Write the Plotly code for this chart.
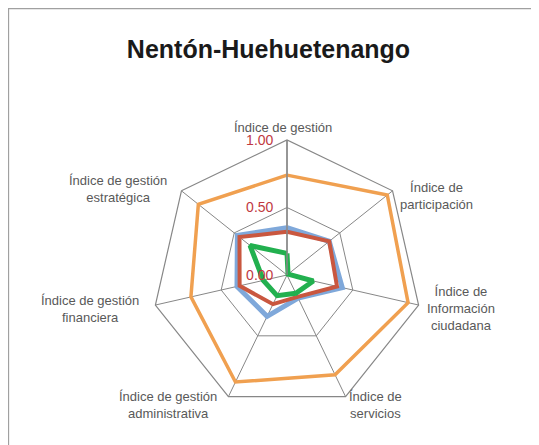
import plotly.graph_objects as go

categories = [
    "Índice de gestión",
    "Índice de participación",
    "Índice de Información ciudadana",
    "Índice de servicios",
    "Índice de gestión administrativa",
    "Índice de gestión financiera",
    "Índice de gestión estratégica",
]
category_labels = [
    "Índice de gestión",
    "Índice de<br>participación",
    "Índice de<br>Información<br>ciudadana",
    "Índice de<br>servicios",
    "Índice de gestión<br>administrativa",
    "Índice de gestión<br>financiera",
    "Índice de gestión<br>estratégica",
]
serie_naranja = [0.74, 0.95, 0.92, 0.82, 0.88, 0.73, 0.84]
serie_azul = [0.35, 0.40, 0.42, 0.19, 0.34, 0.38, 0.47]
serie_roja = [0.32, 0.40, 0.38, 0.18, 0.24, 0.36, 0.45]
serie_verde = [0.16, 0.01, 0.20, 0.15, 0.17, 0.18, 0.35]
tick_vals = [0, 0.5, 1.0]
tick_text = ["0.00", "0.50", "1.00"]

# label anchor positions in figure pixels (layout only)
label_xy = [(275, 119), (428, 188), (453, 300), (367, 397),
            (160, 397), (82, 301), (110, 181)]

series = [
    ("Serie 1", serie_naranja, "#F0A050", 3.5),
    ("Serie 2", serie_azul, "#7FA8DA", 5),
    ("Serie 3", serie_roja, "#C9573F", 4),
    ("Serie 4", serie_verde, "#22B04F", 5),
]

fig = go.Figure()
for name, vals, color, w in series:
    fig.add_trace(go.Scatterpolar(
        r=vals + vals[:1],
        theta=categories + categories[:1],
        mode="lines",
        name=name,
        line=dict(color=color, width=w),
        showlegend=False,
        hoverinfo="skip",
    ))

W, H = 539, 445
cx, cy, R = 279, 267, 135

annotations = []
for text, (px, py) in zip(category_labels, label_xy):
    annotations.append(dict(
        text=text, xref="paper", yref="paper", x=px / W, y=1 - py / H,
        xanchor="center", yanchor="middle", align="center", showarrow=False,
        font=dict(size=13, color="#595959", family="Liberation Sans, Arial, sans-serif"),
    ))

fig.update_layout(
    width=W, height=H,
    margin=dict(l=0, r=0, t=0, b=0),
    paper_bgcolor="white",
    plot_bgcolor="white",
    font=dict(family="Liberation Sans, Arial, sans-serif"),
    title=dict(
        text="<b>Nentón-Huehuetenango</b>",
        x=260.5 / W, xanchor="center", y=1 - 41 / H, yanchor="middle",
        font=dict(size=25, color="#1a1a1a", family="Liberation Sans, Arial, sans-serif"),
    ),
    polar=dict(
        domain=dict(x=[(cx - R) / W, (cx + R) / W], y=[(H - cy - R) / H, (H - cy + R) / H]),
        bgcolor="white",
        gridshape="linear",
        angularaxis=dict(
            direction="clockwise",
            rotation=90,
            showline=True,
            linecolor="#878787",
            linewidth=1.2,
            gridcolor="#878787",
            gridwidth=1.2,
            ticks="",
            showticklabels=False,
        ),
        radialaxis=dict(
            range=[0, 1],
            angle=90,
            tickangle=90,
            side="counterclockwise",
            tickvals=tick_vals,
            ticktext=tick_text,
            tickfont=dict(size=14, color="#C0393F"),
            showline=True,
            linecolor="#878787",
            linewidth=1.5,
            gridcolor="#878787",
            gridwidth=1.2,
            ticks="outside",
            ticklen=8,
            tickcolor="rgba(0,0,0,0)",
        ),
    ),
    annotations=annotations,
    shapes=[dict(type="rect", xref="paper", yref="paper",
                 x0=0.5 / W, x1=1 - 0.5 / W, y0=0.5 / H, y1=1 - 0.5 / H,
                 line=dict(color="#A0A0A0", width=1.3))],
)

fig.write_html("out.html")
